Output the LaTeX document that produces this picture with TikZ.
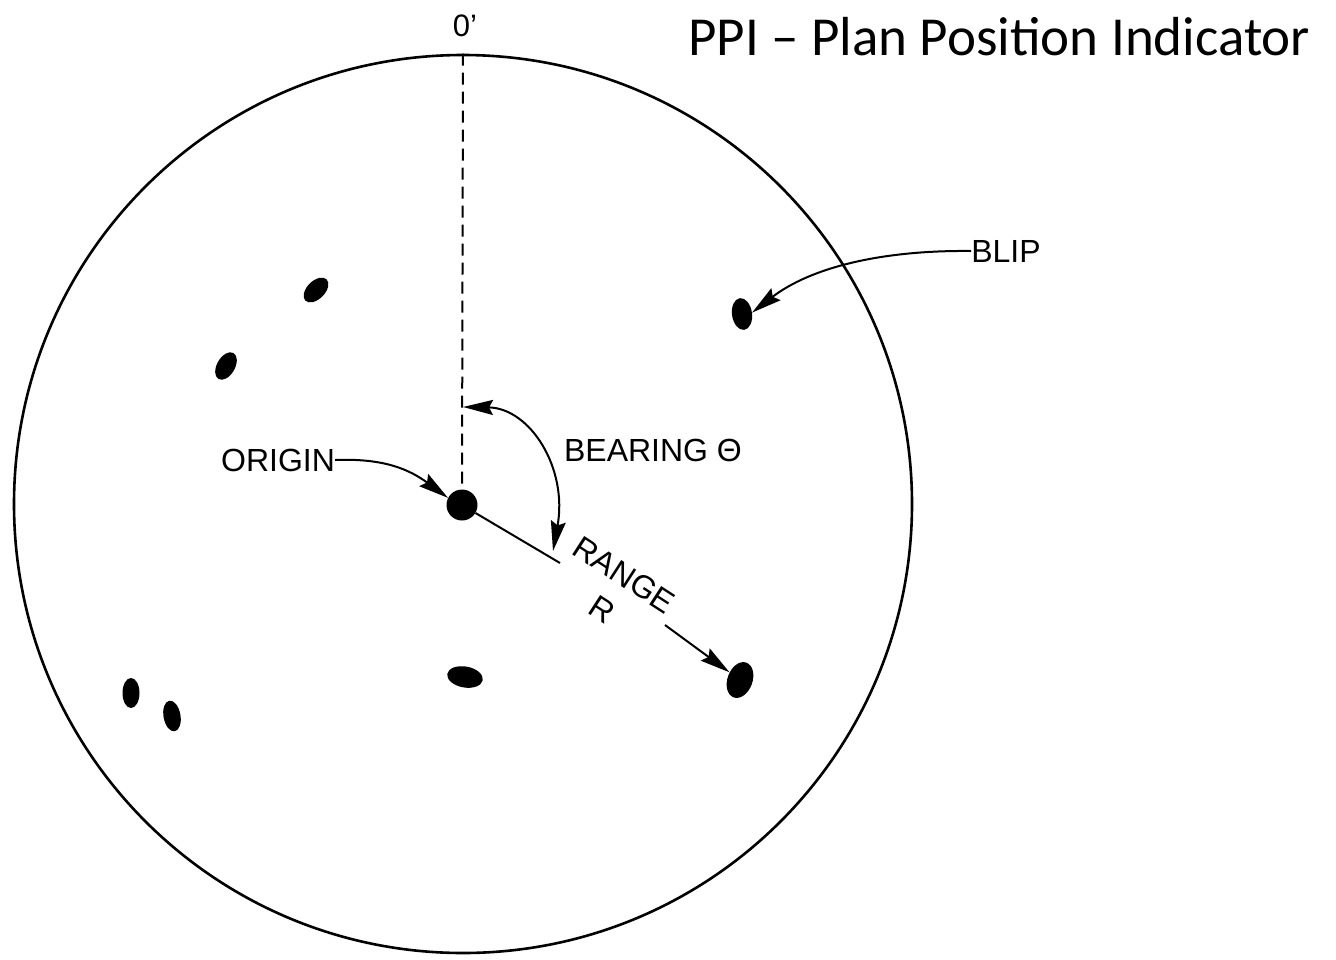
\documentclass[tikz,border=0pt]{standalone}
\usepackage{fontspec}
\setmainfont{Liberation Sans}
\newfontfamily\titlefont{Carlito}
\usetikzlibrary{arrows.meta,shapes.geometric}
\begin{document}
\begin{tikzpicture}[x=1pt,y=-1pt,
  lbl/.style={font=\fontsize{32}{36}\selectfont, inner sep=0pt},
  blob/.style={ellipse, fill=black, draw=none, inner sep=0pt},
  arr/.style={line width=2pt, -{Stealth[length=30pt,width=15pt,inset=4pt]}},
  dbl/.style={line width=2pt, {Stealth[length=30pt,width=15pt,inset=4pt]}-{Stealth[length=30pt,width=15pt,inset=4pt]}}]
\useasboundingbox (0,0) rectangle (1336,959);
% scope circle
\node[circle, draw, line width=2.6pt, minimum size=898pt, inner sep=0pt] (scope) at (463,504) {};
% title
\node[anchor=base west, inner sep=0pt, font=\titlefont\fontsize{55}{60}\selectfont] (title) at (688,55) {PPI – Plan Position Indicator};
% zero label
\node[inner sep=0pt, font=\fontsize{31}{34}\selectfont] (zero) at (465,26) {0'};
% origin dot
\node[circle, fill=black, minimum size=31pt, inner sep=0pt] (dot) at (462,505) {};
% dashed north line
\draw[line width=2pt, dash pattern=on 12pt off 7pt] (scope.north) -- (dot.north);
% blips
\node[blob, minimum width=18pt, minimum height=30pt, rotate=-45] (b1) at (316,290) {};
\node[blob, minimum width=18pt, minimum height=30pt, rotate=-30] (b2) at (226,366) {};
\node[blob, minimum width=20pt, minimum height=32pt, rotate=8] (blip) at (742,314) {};
\node[blob, minimum width=36pt, minimum height=21pt, rotate=-10] (b4) at (465,677) {};
\node[blob, minimum width=25pt, minimum height=37pt, rotate=-20] (rblob) at (740,680) {};
\node[blob, minimum width=17pt, minimum height=30pt] (b6) at (131,693) {};
\node[blob, minimum width=17pt, minimum height=31pt, rotate=10] (b7) at (172,716) {};
% labels
\node[lbl] (orig) at (278,460) {ORIGIN};
\node[lbl] (bear) at (653,450) {BEARING Θ};
\node[lbl] (bliplbl) at (1006,251) {BLIP};
\node[lbl, rotate=-33, align=center, font=\fontsize{32}{41}\selectfont] (range) at (613,592) {RANGE\\R};
% range line
\coordinate (rend) at (560,563);
\draw[line width=2pt] (dot) -- (rend);
% bearing arc
\coordinate (bstart) at (463,407);
\coordinate (bend) at (553,551);
\draw[dbl] (bstart) .. controls (530,408) and (568,468) .. (bend);
% origin arrow
\draw[arr] (orig.east) .. controls (385,458) and (410,470) .. (dot.153);
% blip arrow
\draw[arr] (bliplbl.west) .. controls (880,250) and (810,268) .. (blip.east);
% range arrow
\coordinate (rstart) at (665,625);
\draw[arr] (rstart) -- (rblob);
\end{tikzpicture}
\end{document}
